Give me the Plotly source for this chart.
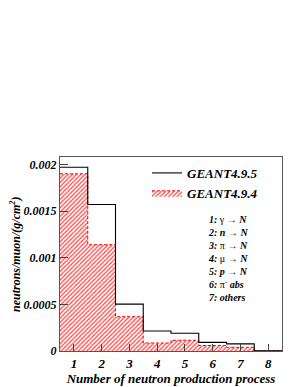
import plotly.graph_objects as go

process = [1, 2, 3, 4, 5, 6, 7, 8]
geant495 = [0.00197, 0.00157, 0.000503, 0.000214, 0.00019, 0.000092, 0.000076, 0.000003]
geant494 = [0.00190, 0.00114, 0.000368, 0.000086, 0.000115, 0.000059, 0.00004, 0.000002]
yticks = [0, 0.0005, 0.001, 0.0015, 0.002]
ytick_text = ["0", "0.0005", "0.001", "0.0015", "0.002"]
process_labels = ["<b><i>1:</i></b> γ → <b><i>N</i></b>",
                  "<b><i>2: n</i></b> → <b><i>N</i></b>",
                  "<b><i>3:</i></b> π → <b><i>N</i></b>",
                  "<b><i>4:</i></b> μ → <b><i>N</i></b>",
                  "<b><i>5: p</i></b> → <b><i>N</i></b>",
                  "<b><i>6:</i></b> π<sup>-</sup> <b><i>abs</i></b>",
                  "<b><i>7: others</i></b>"]

def steps(vals):
    xs = [p - 0.5 for p in process] + [process[-1] + 0.5]
    ys = list(vals) + [vals[-1]]
    return xs, ys

FONT = "Liberation Serif"
L, R, T, B = 52, 25, 149, 27
W, H = 299, 387
PW, PH = W - L - R, H - T - B

fig = go.Figure()

x4, y4 = steps(geant494)
fig.add_trace(go.Scatter(
    x=x4, y=y4, mode="lines", line=dict(shape="hv", color="red", dash="3px,2px", width=1),
    fill="tozeroy", fillcolor="rgba(0,0,0,0)",
    fillpattern=dict(shape="/", fgcolor="red", bgcolor="white", size=3, solidity=0.4, fgopacity=0.75),
    name="<b><i>GEANT4.9.4</i></b>", legendrank=2))

x5, y5 = steps(geant495)
fig.add_trace(go.Scatter(
    x=x5, y=y5, mode="lines", line=dict(shape="hv", color="black", width=1.1),
    name="<b><i>GEANT4.9.5</i></b>", legendrank=1))

fig.add_annotation(
    x=(199 - L) / PW, y=(H - B - 259) / PH, xref="paper", yref="paper",
    xanchor="left", yanchor="middle", text="<br>".join(process_labels), showarrow=False,
    align="left", borderpad=0,
    font=dict(family=FONT, size=10, color="black"))

fig.add_annotation(
    x=(7 - L) / PW, y=0.5, xref="paper", yref="paper", xanchor="center", yanchor="middle",
    text="<b><i>neutrons/muon/(g/cm<sup>2</sup>)</i></b>", textangle=-90, showarrow=False,
    font=dict(family=FONT, size=12, color="black"))

fig.update_layout(
    width=W, height=H,
    margin=dict(l=L, r=R, t=T, b=B),
    paper_bgcolor="white", plot_bgcolor="white",
    font=dict(family=FONT, color="black"),
    showlegend=True,
    legend=dict(x=0.392, y=0.995, xanchor="left", yanchor="top", bgcolor="rgba(0,0,0,0)",
                font=dict(family=FONT, size=13), tracegroupgap=7, traceorder="normal",
                itemwidth=30),
    xaxis=dict(range=[0.5, 8.5], tickvals=process, ticks="inside", ticklen=7,
               showline=True, mirror=True, linecolor="#555", linewidth=1, showgrid=False,
               zeroline=False,
               tickfont=dict(family=FONT, size=13, color="black"),
               ticktext=[f"<b><i>{p}</i></b>" for p in process],
               title=dict(text="<b><i>Number of neutron production process</i></b>",
                          font=dict(family=FONT, size=13), standoff=3)),
    yaxis=dict(range=[0, 0.00208], tickvals=yticks, ticktext=[f"<b><i>{t}</i></b>" for t in ytick_text],
               ticks="inside", ticklen=8, showline=True, mirror=True, linecolor="#555",
               linewidth=1, showgrid=False, zeroline=False,
               tickfont=dict(family=FONT, size=12, color="black")),
)
fig.write_html("out.html")
